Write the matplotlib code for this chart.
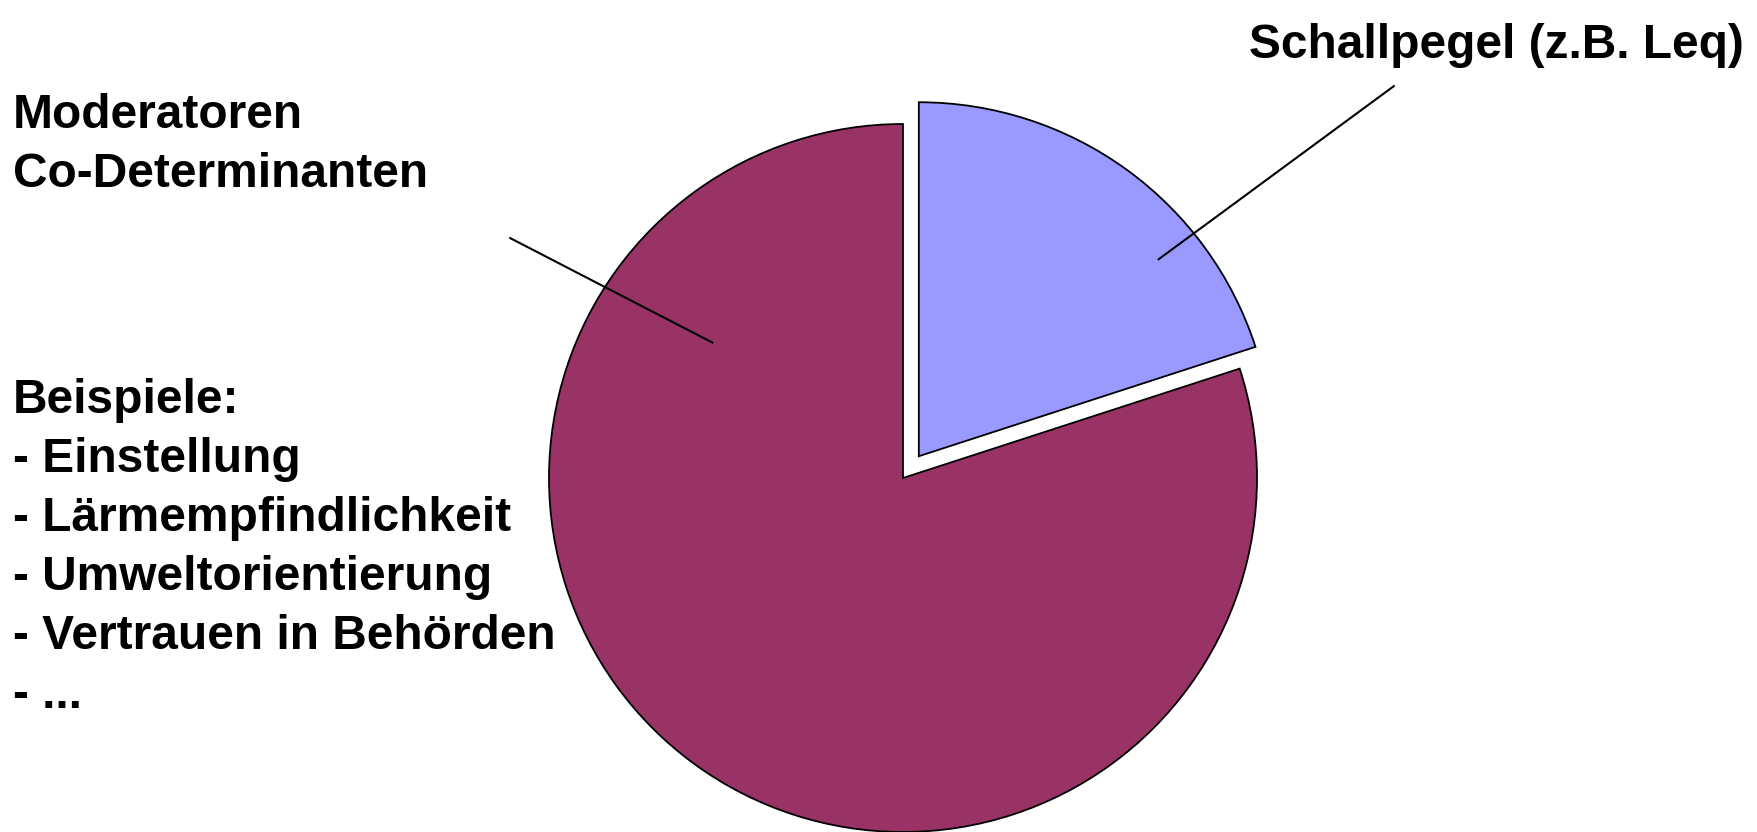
import numpy as np
import matplotlib
matplotlib.use("Agg")
import matplotlib.pyplot as plt

# Shares of the two factors
shares = [20, 80]
slice_labels = ["Schallpegel (z.B. Leq)", "Moderatoren\nCo-Determinanten"]
slice_colors = ["#9999FF", "#993366"]
examples_title = "Beispiele:"
examples = ["Einstellung", "Lärmempfindlichkeit", "Umweltorientierung",
            "Vertrauen in Behörden", "..."]

W, H = 1757, 832
fig = plt.figure(figsize=(W / 100, H / 100), dpi=100)
ax = fig.add_axes([0, 0, 1, 1])

cx, cy, r = 903, H - 478, 354
wedges, _ = ax.pie(shares, colors=slice_colors, startangle=90, counterclock=False,
                   explode=[0.076 * r, 0], radius=r, center=(cx, cy),
                   wedgeprops=dict(edgecolor="black", linewidth=1.3))
ax.set_xlim(0, W)
ax.set_ylim(0, H)
ax.set_aspect("equal", adjustable="box")
ax.axis("off")

font = dict(family=["Liberation Sans", "DejaVu Sans"], fontweight="bold", fontsize=34.5)


def wedge_point(w, ang_deg, frac):
    x0, y0 = w.center
    a = np.deg2rad(ang_deg)
    return (x0 + w.r * frac * np.cos(a), y0 + w.r * frac * np.sin(a))


# Leader lines from inside each slice towards its label
blue_in = wedge_point(wedges[0], 39.4, 0.876)
ax.annotate("", xy=blue_in, xytext=(1394, H - 86),
            arrowprops=dict(arrowstyle="-", color="black", lw=1.5,
                            shrinkA=0, shrinkB=0))
red_in = wedge_point(wedges[1], 144.6, 0.66)
ax.annotate("", xy=red_in, xytext=(510, H - 238),
            arrowprops=dict(arrowstyle="-", color="black", lw=1.5,
                            shrinkA=0, shrinkB=0))

# Labels
ax.text(1744, H - 45, slice_labels[0], ha="right", va="center", **font)
ax.text(13, H - 93, slice_labels[1], ha="left", va="top", linespacing=1.40, **font)
block = "\n".join([examples_title] + ["- " + e for e in examples])
ax.text(13, H - 378, block, ha="left", va="top", linespacing=1.40, **font)

fig.savefig("out.png", dpi=100, facecolor="white")
